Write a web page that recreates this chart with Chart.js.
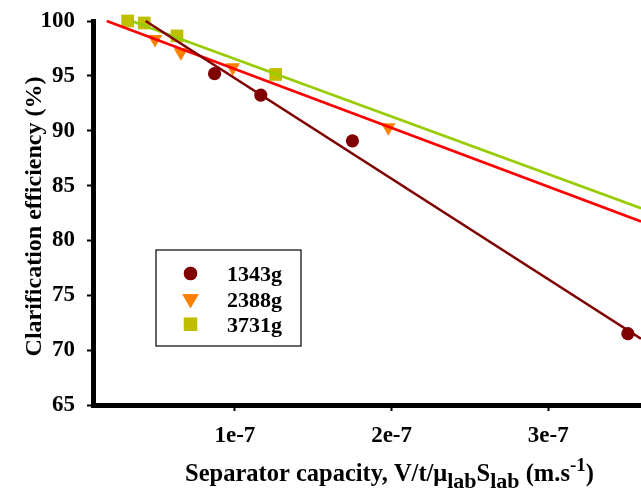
<!DOCTYPE html>
<html>
<head>
<meta charset="utf-8">
<script src="https://cdn.jsdelivr.net/npm/chart.js@4.4.1/dist/chart.umd.min.js"></script>
<style>
  html, body { margin:0; padding:0; background:#fff; }
  canvas { display:block; }
</style>
</head>
<body>
<canvas id="c" width="641" height="489"></canvas>
<script>
/* 분리기 용량 대비 청징 효율 — 원심력(g)별 측정값 + 추세선 */

const SERIES_NAMES = ['1343g', '2388g', '3731g'];

// 측정점 (x: m/s, y: %)
const X_1343 = [0.87e-7, 1.165e-7, 1.75e-7, 3.508e-7];
const Y_1343 = [95.2, 93.25, 89.08, 71.5];
const X_2388 = [0.49e-7, 0.655e-7, 0.986e-7, 1.979e-7];
const Y_2388 = [98.35, 97.14, 95.77, 90.3];
const X_3731 = [0.315e-7, 0.421e-7, 0.63e-7, 1.26e-7];
const Y_3731 = [100, 99.82, 98.64, 95.13];

// 추세선 양 끝점
const FIT_X_1343 = [0.43e-7, 3.592e-7];
const FIT_Y_1343 = [100, 71.04];
const FIT_X_2388 = [0.182e-7, 3.592e-7];
const FIT_Y_2388 = [100, 81.73];
const FIT_X_3731 = [0.34e-7, 3.592e-7];
const FIT_Y_3731 = [100, 82.94];

// 축
const X_MIN = 0.094e-7, X_MAX = 3.592e-7;
const X_TICKS = [1e-7, 2e-7, 3e-7];
const X_TICK_LABELS = ['1e-7', '2e-7', '3e-7'];
const Y_MIN = 65, Y_MAX = 100, Y_STEP = 5;

const FONT = "'Liberation Serif', 'Times New Roman', Times, serif";
const COL = {
  c1343: '#800000', c2388: '#FF8000', c3731: '#BFBF00',
  l1343: '#800000', l2388: '#FF0000', l3731: '#99CC00'
};

const pts = (xs, ys) => xs.map((x, i) => ({ x, y: ys[i] }));

function markerSet(label, xs, ys, style, color, radius, rot){
  return {
    label, data: pts(xs, ys), pointStyle: style, pointRotation: rot || 0,
    pointRadius: radius, pointHoverRadius: radius,
    pointBackgroundColor: color, pointBorderWidth: 0, backgroundColor: color,
    showLine: false, order: 1, clip: false
  };
}
function fitSet(xs, ys, color){
  return {
    label: '', data: pts(xs, ys), showLine: true, borderColor: color, borderWidth: 2.6,
    pointRadius: 0, pointHoverRadius: 0, fill: false, order: 0, isFit: true, clip: false
  };
}

/* ── 축 제목 + 범례 직접 그리기 ─────────────────────────── */
const decoPlugin = {
  id: 'deco',
  afterDraw(chart){
    const { ctx } = chart;
    ctx.save();
    ctx.fillStyle = '#000';

    // y축 제목
    ctx.save();
    ctx.translate(40.5, 216.5);
    ctx.rotate(-Math.PI / 2);
    ctx.font = `bold 24px ${FONT}`;
    ctx.textAlign = 'center';
    ctx.textBaseline = 'alphabetic';
    ctx.fillText('Clarification efficiency (%)', 0, 0);
    ctx.restore();

    // x축 제목 (아래첨자/위첨자)
    const parts = [
      ['Separator capacity, V/t/μ', 0, 24.5], ['lab', 7, 22], ['S', 0, 24.5], ['lab', 7, 22],
      [' (m.s', 0, 24.5], ['-1', -10, 19], [')', 0, 24.5]
    ];
    let x = 185;
    ctx.textAlign = 'left';
    ctx.textBaseline = 'alphabetic';
    parts.forEach(([t, dy, sz]) => {
      ctx.font = `bold ${sz}px ${FONT}`;
      ctx.fillText(t, x, 481 + dy);
      x += ctx.measureText(t).width;
    });

    // 범례 상자
    ctx.strokeStyle = '#000';
    ctx.lineWidth = 1.2;
    ctx.strokeRect(156, 250, 145, 96);
    const metas = chart.data.datasets.filter(d => !d.isFit);
    const rows = [273.5, 299, 324.3];
    const lgR = [6.7, 9.3, 9.4];
    metas.forEach((d, i) => {
      ctx.fillStyle = d.pointBackgroundColor;
      Chart.helpers.drawPoint(ctx, { pointStyle: d.pointStyle, rotation: d.pointRotation, radius: lgR[i], borderWidth: 0 }, 190.5, rows[i]);
      ctx.fill();
      ctx.fillStyle = '#000';
      ctx.font = `bold 22px ${FONT}`;
      ctx.fillText(d.label, 227, rows[i] + 7.6);
    });
    ctx.restore();
  }
};

new Chart(document.getElementById('c'), {
  type: 'scatter',
  data: {
    datasets: [
      markerSet(SERIES_NAMES[0], X_1343, Y_1343, 'circle', COL.c1343, 6.6),
      markerSet(SERIES_NAMES[1], X_2388, Y_2388, 'triangle', COL.c2388, 8.4, 180),
      markerSet(SERIES_NAMES[2], X_3731, Y_3731, 'rect', COL.c3731, 9),
      fitSet(FIT_X_1343, FIT_Y_1343, COL.l1343),
      fitSet(FIT_X_2388, FIT_Y_2388, COL.l2388),
      fitSet(FIT_X_3731, FIT_Y_3731, COL.l3731)
    ]
  },
  plugins: [decoPlugin],
  options: {
    responsive: false, animation: false,
    layout: { autoPadding: false, padding: { top: 21, right: 0, left: 0, bottom: 0 } },
    plugins: { legend: { display: false }, tooltip: { enabled: false } },
    scales: {
      x: {
        type: 'linear', min: X_MIN, max: X_MAX,
        afterBuildTicks: s => { s.ticks = X_TICKS.map(v => ({ value: v })); },
        afterFit: s => { s.height = 84; s.paddingLeft = 0; s.paddingRight = 0; },
        ticks: {
          callback: v => X_TICK_LABELS[X_TICKS.findIndex(t => Math.abs(t - v) < 1e-12)] ?? '',
          font: { family: FONT, size: 23, weight: 'bold' }, color: '#000', padding: 11, maxRotation: 0
        },
        grid: { display: true, drawOnChartArea: false, drawTicks: true, tickLength: 6, tickColor: '#000', tickWidth: 2 },
        border: { display: true, color: '#000', width: 5 }
      },
      y: {
        type: 'linear', min: Y_MIN, max: Y_MAX,
        afterFit: s => { s.width = 93; s.paddingTop = 0; s.paddingBottom = 0; },
        ticks: {
          stepSize: Y_STEP,
          font: { family: FONT, size: 23, weight: 'bold' }, color: '#000', padding: 12
        },
        grid: { display: true, drawOnChartArea: false, drawTicks: true, tickLength: 6, tickColor: '#000', tickWidth: 2 },
        border: { display: true, color: '#000', width: 5 }
      }
    }
  }
});
</script>
</body>
</html>
